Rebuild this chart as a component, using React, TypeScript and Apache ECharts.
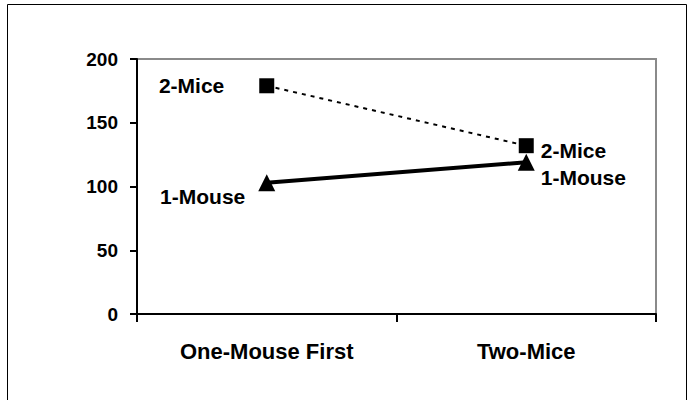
import React, { useEffect, useRef } from "react";
import * as echarts from "echarts";

const categories = ["One-Mouse First", "Two-Mice"];
const twoMice = [179, 132];
const oneMouse = [103, 119];
const seriesNames = ["2-Mice", "1-Mouse"];

const FONT = "'Liberation Sans', Arial, sans-serif";

export default function App() {
  const ref = useRef<HTMLDivElement>(null);
  useEffect(() => {
    const chart = echarts.init(ref.current!, null, { renderer: "svg" });
    const lbl = (fs: number) => ({
      show: true,
      formatter: "{a}",
      color: "#000",
      fontFamily: FONT,
      fontWeight: "bold" as const,
      fontSize: fs,
    });
    chart.setOption({
      animation: false,
      backgroundColor: "#fff",
      graphic: [
        {
          type: "rect",
          shape: { x: 7.5, y: 4.5, width: 679, height: 400 },
          style: { fill: "none", stroke: "#000", lineWidth: 1 },
          silent: true,
        },
      ],
      grid: {
        left: 137,
        right: 37,
        top: 59,
        bottom: 86,
        show: true,
        borderColor: "#8a8a8a",
        borderWidth: 2,
      },
      xAxis: {
        type: "category",
        data: categories,
        boundaryGap: true,
        axisLine: { lineStyle: { color: "#000", width: 2 } },
        axisTick: { show: true, length: 8, lineStyle: { color: "#000", width: 2 } },
        axisLabel: {
          color: "#000",
          fontFamily: FONT,
          fontWeight: "bold",
          fontSize: 22,
          margin: 26,
        },
        splitLine: { show: false },
      },
      yAxis: {
        type: "value",
        min: 0,
        max: 200,
        interval: 50,
        axisLine: { show: true, lineStyle: { color: "#000", width: 2 } },
        axisTick: { show: true, length: 7, lineStyle: { color: "#000", width: 2 } },
        axisLabel: {
          color: "#000",
          fontFamily: FONT,
          fontWeight: "bold",
          fontSize: 19,
          margin: 19,
        },
        splitLine: { show: false },
      },
      series: [
        {
          name: seriesNames[0],
          type: "line",
          data: twoMice.map((v, i) => ({
            value: v,
            label:
              i === 0
                ? { ...lbl(21), position: "left", distance: 35, offset: [0, 0] }
                : { ...lbl(21), position: "right", distance: 7, offset: [0, 5] },
          })),
          symbol: "rect",
          symbolSize: 15,
          itemStyle: { color: "#000" },
          lineStyle: { color: "#000", width: 2, type: [4, 5] },
        },
        {
          name: seriesNames[1],
          type: "line",
          data: oneMouse.map((v, i) => ({
            value: v,
            label:
              i === 0
                ? { ...lbl(21), position: "left", distance: 13, offset: [0, 14] }
                : { ...lbl(21), position: "right", distance: 6, offset: [0, 15] },
          })),
          symbol: "triangle",
          symbolSize: 17,
          itemStyle: { color: "#000" },
          lineStyle: { color: "#000", width: 4 },
        },
      ],
    });
    return () => chart.dispose();
  }, []);
  return (
    <div
      ref={ref}
      style={{ position: "absolute", left: 0, top: 0, width: 693, height: 400 }}
    />
  );
}
